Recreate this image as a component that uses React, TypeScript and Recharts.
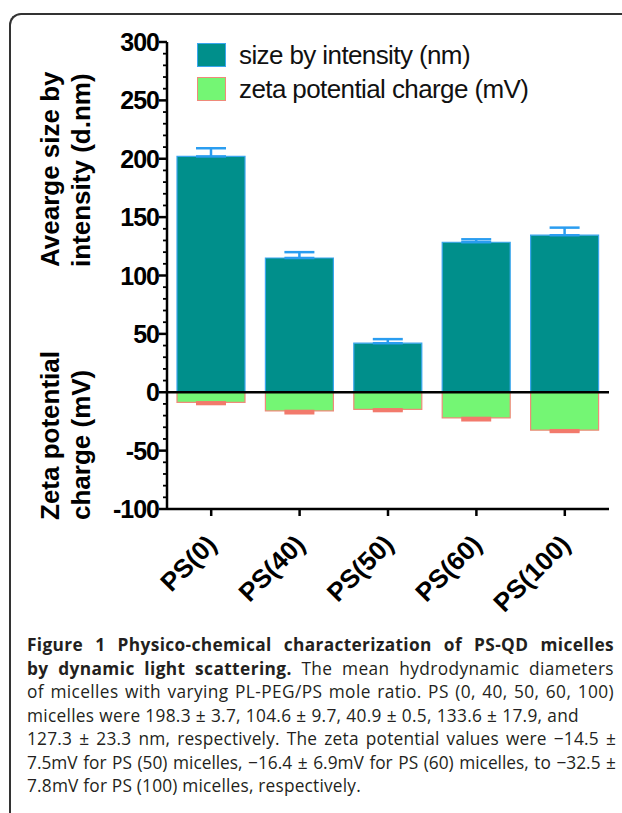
import React from 'react';
import { BarChart, Bar, XAxis, YAxis, ReferenceLine, ErrorBar } from 'recharts';

const categories = ['PS(0)', 'PS(40)', 'PS(50)', 'PS(60)', 'PS(100)'];
const sizeValues = [202, 115, 42, 128.5, 134.5];
const sizeErrors = [7, 5, 3.5, 2.5, 6.5];
const zetaValues = [-8.6, -16, -14.6, -22, -32.5];
const zetaErrors = [1.5, 2, 1.5, 2, 1.5];
const yTicks = [
  -100, -90, -80, -70, -60, -50, -40, -30, -20, -10, 0, 10, 20, 30, 40, 50, 60, 70, 80, 90, 100,
  110, 120, 130, 140, 150, 160, 170, 180, 190, 200, 210, 220, 230, 240, 250, 260, 270, 280, 290, 300,
];
const majorTicks = [-100, -50, 0, 50, 100, 150, 200, 250, 300];

const TEAL = '#008f8b';
const TEAL_EDGE = '#3aa6ee';
const GREEN = '#74f674';
const GREEN_EDGE = '#ef8a7a';

const data = categories.map((name, i) => ({
  name,
  size: sizeValues[i],
  sizeErr: [0, sizeErrors[i]],
  zeta: zetaValues[i],
  zetaErr: [zetaErrors[i], 0],
}));

const AXIS_FONT = '"Liberation Sans", Arial, sans-serif';

function YTick(props: any) {
  const { x, y, payload } = props;
  const major = majorTicks.includes(payload.value);
  return (
    <g>
      <line x1={x} x2={x - (major ? 8 : 4)} y1={y} y2={y} stroke="#000" strokeWidth={major ? 2.5 : 1.8} />
      {major && (
        <text x={x - 8} y={y} dy={9} textAnchor="end" fontFamily={AXIS_FONT} fontWeight="bold" fontSize={25} fill="#000" letterSpacing={-1}>
          {payload.value}
        </text>
      )}
    </g>
  );
}

function XTick(props: any) {
  const { x, y, payload } = props;
  const tx = x + 7;
  const ty = y + 30;
  return (
    <text
      x={tx}
      y={ty}
      textAnchor="end"
      transform={`rotate(-45, ${tx}, ${ty})`}
      fontFamily={AXIS_FONT}
      fontWeight="bold"
      fontSize={26}
      fill="#000"
    >
      {payload.value}
    </text>
  );
}

function LegendBox() {
  const items = [
    { label: 'size by intensity (nm)', fill: TEAL, stroke: TEAL_EDGE },
    { label: 'zeta potential charge (mV)', fill: GREEN, stroke: GREEN_EDGE },
  ];
  return (
    <div style={{ position: 'absolute', left: 197, top: 38, fontFamily: AXIS_FONT, fontSize: 26, color: '#111' }}>
      {items.map((it) => (
        <div key={it.label} style={{ display: 'flex', alignItems: 'center', height: 34 }}>
          <div style={{ width: 29, height: 24, background: it.fill, border: `1.5px solid ${it.stroke}`, boxSizing: 'border-box', marginRight: 13 }} />
          <span style={{ letterSpacing: -0.6 }}>{it.label}</span>
        </div>
      ))}
    </div>
  );
}

// caption lines: text, justified width (0 = natural), letter spacing
const captionLines: [React.ReactNode, number, number][] = [
  [<b key="b1">Figure 1 Physico-chemical characterization of PS-QD micelles</b>, 587, 0.35],
  [<span key="l2"><b>by dynamic light scattering.</b> The mean hydrodynamic diameters</span>, 587, 0.4],
  ['of micelles with varying PL-PEG/PS mole ratio. PS (0, 40, 50, 60, 100)', 587, 0.4],
  ['micelles were 198.3 ± 3.7, 104.6 ± 9.7, 40.9 ± 0.5, 133.6 ± 17.9, and', 552, 0.3],
  ['127.3 ± 23.3 nm, respectively. The zeta potential values were −14.5 ±', 589, 0.2],
  ['7.5mV for PS (50) micelles, −16.4 ± 6.9mV for PS (60) micelles, to −32.5 ±', 589, 0],
  ['7.8mV for PS (100) micelles, respectively.', 0, 0.2],
];

export default function App() {
  return (
    <div style={{ position: 'absolute', left: 0, top: 0, width: 622, height: 813, overflow: 'hidden', background: '#fff' }}>
      <div
        style={{
          position: 'absolute',
          left: 9,
          top: 13,
          width: 700,
          height: 900,
          borderLeft: '2px solid #333',
          borderTop: '2px solid #333',
          borderTopLeftRadius: 12,
        }}
      />
      <div style={{ position: 'absolute', left: 0, top: 0 }}>
        <BarChart width={622} height={640} data={data} stackOffset="sign" barSize={68} margin={{ top: 42, right: 13, left: 0, bottom: 0 }}>
          <YAxis
            width={167}
            domain={[-100, 300]}
            ticks={yTicks}
            interval={0}
            tick={<YTick />}
            tickLine={false}
            tickSize={0}
            tickMargin={0}
            axisLine={{ stroke: '#000', strokeWidth: 2.5 }}
            allowDataOverflow
          />
          <XAxis
            dataKey="name"
            height={131}
            interval={0}
            tick={<XTick />}
            tickSize={7}
            tickMargin={0}
            tickLine={{ stroke: '#000', strokeWidth: 2.5 }}
            axisLine={{ stroke: '#000', strokeWidth: 2.5 }}
          />
          <Bar dataKey="size" stackId="a" fill={TEAL} stroke={TEAL_EDGE} strokeWidth={1.2} isAnimationActive={false}>
            <ErrorBar dataKey="sizeErr" width={15} stroke="#2a9df0" strokeWidth={2.5} direction="y" />
          </Bar>
          <Bar dataKey="zeta" stackId="a" fill={GREEN} stroke={GREEN_EDGE} strokeWidth={1.2} isAnimationActive={false}>
            <ErrorBar dataKey="zetaErr" width={15} stroke="#f27a6c" strokeWidth={2.5} direction="y" />
          </Bar>
          <ReferenceLine y={0} stroke="#000" strokeWidth={2.5} />
        </BarChart>
      </div>
      <LegendBox />
      <svg style={{ position: 'absolute', left: 0, top: 0 }} width={160} height={560}>
        <g fontFamily={AXIS_FONT} fontWeight="bold" fontSize={26} fill="#000">
          <text transform="translate(59, 267) rotate(-90)">Avearge size by</text>
          <text transform="translate(90, 267) rotate(-90)">intensity (d.nm)</text>
          <text transform="translate(59, 520) rotate(-90)">Zeta potential</text>
          <text transform="translate(90, 520) rotate(-90)">charge (mV)</text>
        </g>
      </svg>
      <div
        style={{
          position: 'absolute',
          left: 27,
          top: 633,
          fontFamily: '"Open Sans", sans-serif',
          fontSize: 17.3,
          lineHeight: '23.5px',
          color: '#231f20',
          whiteSpace: 'nowrap',
        }}
      >
        {captionLines.map(([l, w, ls], i) => (
          <div
            key={i}
            style={{ letterSpacing: ls, ...(w ? { width: w, textAlign: 'justify' as const, textAlignLast: 'justify' as const } : {}) }}
          >
            {l}
          </div>
        ))}
      </div>
    </div>
  );
}
